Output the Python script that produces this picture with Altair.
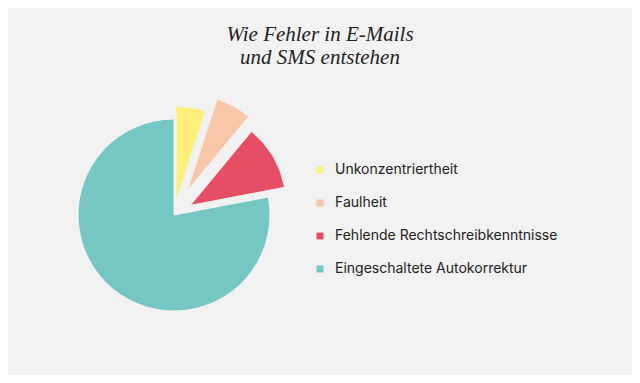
import math
import altair as alt
import pandas as pd

categories = ["Unkonzentriertheit", "Faulheit", "Fehlende Rechtschreibkenntnisse", "Eingeschaltete Autokorrektur"]
values = [5, 6, 11, 78]
colors = ["#fdf07a", "#f8c7a7", "#e54e65", "#76c6c4"]
explode_px = [13, 28, 19, 0]

df = pd.DataFrame({
    "cat": categories,
    "value": values,
    "order": list(range(len(categories))),
    "ex": explode_px,
})

CX, CY, R = 166, 127, 96

base = alt.Chart(df).transform_joinaggregate(
    total="sum(value)"
).transform_window(
    cum="sum(value)", sort=[alt.SortField("order")], frame=[None, 0]
).transform_calculate(
    t0="2*PI*(datum.cum - datum.value)/datum.total",
    t1="2*PI*datum.cum/datum.total",
).transform_calculate(
    mid="(datum.t0 + datum.t1)/2"
).transform_calculate(
    cx=f"{CX} + datum.ex*sin(datum.mid)",
    cy=f"{CY} - datum.ex*cos(datum.mid)",
)

chart = base.mark_arc(outerRadius=R, stroke="#f2f2f2", strokeWidth=1).encode(
    theta=alt.Theta("t0:Q", scale=None),
    theta2=alt.Theta2("t1:Q"),
    x=alt.X("cx:Q", scale=None, axis=None, stack=None),
    y=alt.Y("cy:Q", scale=None, axis=None, stack=None),
    color=alt.Color(
        "cat:N",
        scale=alt.Scale(domain=categories, range=colors),
        sort=categories,
        legend=alt.Legend(
            title=None,
            orient="none",
            legendX=305,
            legendY=75,
            symbolType="square",
            symbolSize=49,
            symbolStrokeWidth=0,
            labelFont="Inter",
            labelFontSize=14,
            labelColor="#222222",
            labelOffset=8,
            labelLimit=0,
            rowPadding=19,
        ),
    ),
).properties(
    width=624,
    height=287,
    autosize=alt.AutoSizeParams(type="none"),
    padding={"top": 80, "left": 0, "right": 0, "bottom": 0},
    background="#f2f2f2",
    title=alt.TitleParams(
        text=["Wie Fehler in E-Mails", "und SMS entstehen"],
        font="Liberation Serif",
        fontStyle="italic",
        fontWeight="normal",
        fontSize=21,
        lineHeight=23,
        color="#222222",
        anchor="middle",
        offset=20,
    ),
).configure_view(stroke=None)

chart.save("out.html", embed_options={"renderer": "svg", "actions": False})
